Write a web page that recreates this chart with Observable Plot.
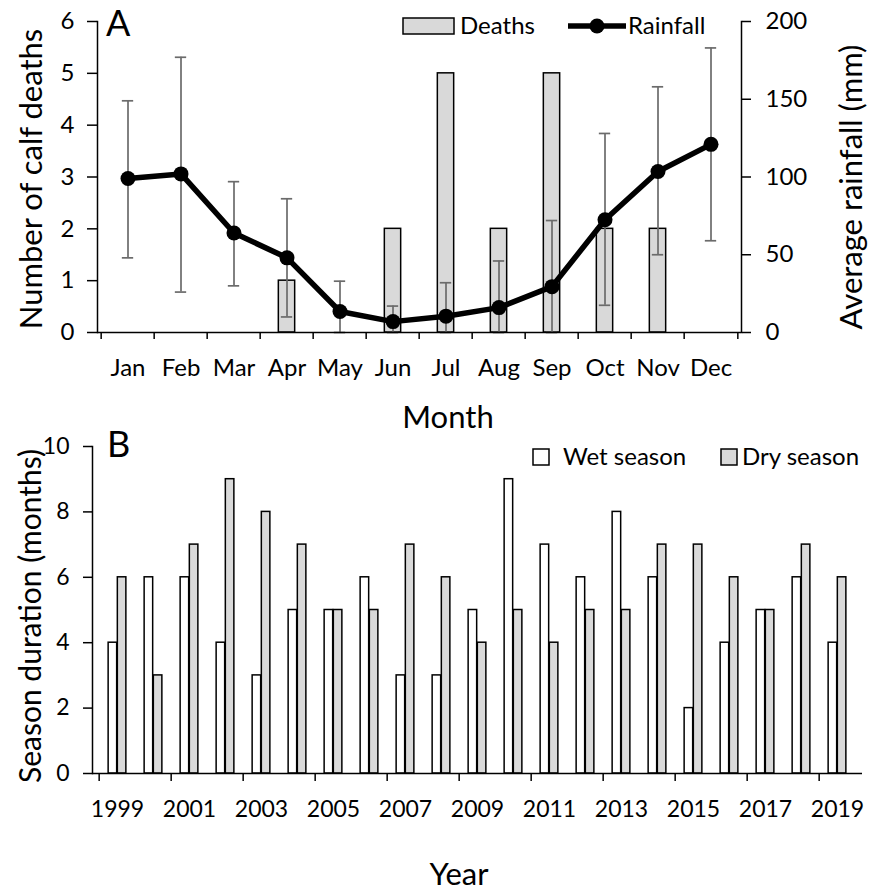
<!DOCTYPE html>
<html><head><meta charset="utf-8">
<script src="https://cdn.jsdelivr.net/npm/d3@7"></script>
<script src="https://cdn.jsdelivr.net/npm/@observablehq/plot@0.6"></script>
<style>
body{margin:0;background:#fff;}
#wrap{position:relative;width:872px;height:896px;overflow:hidden;background:#fff;font-family:Lato,"Open Sans",sans-serif;}
#wrap > svg, #wrap > figure{position:absolute;left:0;margin:0;}
</style></head><body><div id="wrap"></div>
<script>
// ---------- Panel A data ----------
const months = ["Jan","Feb","Mar","Apr","May","Jun","Jul","Aug","Sep","Oct","Nov","Dec"];
const calfDeaths = [0,0,0,1,0,2,5,2,5,2,2,0];
const rainfallMean = [99,102,64,48,13.5,7,10.5,16,29.5,72.5,103.5,121];
const rainfallLow  = [48,26,30,10,0,0,0,0,0,17.5,50,59];
const rainfallHigh = [149,177,97,86,33,17,32,46,72,128,158,183];
const deathTicks = [0,1,2,3,4,5,6];
const rainTicks = [0,50,100,150,200];

// ---------- Panel B data ----------
const years = [1999,2000,2001,2002,2003,2004,2005,2006,2007,2008,2009,2010,2011,2012,2013,2014,2015,2016,2017,2018,2019];
const wetSeason = [4,6,6,4,3,5,5,6,3,3,5,9,7,6,8,6,2,4,5,6,4];
const drySeason = [6,3,7,9,8,7,5,5,7,6,4,5,4,5,5,7,7,6,5,7,6];
const durationTicks = [0,2,4,6,8,10];
const yearLabels = [1999,2001,2003,2005,2007,2009,2011,2013,2015,2017,2019];

const FONT = "Lato, 'Open Sans', sans-serif";
const wrap = document.getElementById("wrap");

// ---------- Panel A ----------
const k = 6 / 200; // rainfall (mm) -> deaths axis units
const deathRows = months.map((m, i) => ({month: m, deaths: calfDeaths[i]}));
const rainRows = months.map((m, i) => ({month: m, rain: rainfallMean[i], lo: rainfallLow[i], hi: rainfallHigh[i]}));
const A_left = 97, A_right = 131, A_w = 872;
const stepA = (A_w - A_left - A_right) / months.length;

const plotA = Plot.plot({
  width: A_w, height: 430,
  marginLeft: A_left, marginRight: A_right, marginTop: 21, marginBottom: 98,
  style: {fontFamily: FONT, background: "none", overflow: "visible", color: "#000"},
  x: {type: "band", domain: months, padding: 0},
  y: {domain: [0, 6]},
  marks: [
    Plot.barY(deathRows.filter(d => d.deaths > 0), {x: "month", y: "deaths", fill: "#d9d9d9", stroke: "#000", strokeWidth: 1.5, insetLeft: (stepA - 17) / 2, insetRight: (stepA - 17) / 2}),
    Plot.ruleX(rainRows, {x: "month", y1: d => d.lo * k, y2: d => d.hi * k, stroke: "#6b6b6b", strokeWidth: 1.7}),
    Plot.tickY(rainRows, {x: "month", y: d => d.lo * k, stroke: "#6b6b6b", strokeWidth: 1.7, insetLeft: (stepA - 12) / 2, insetRight: (stepA - 12) / 2}),
    Plot.tickY(rainRows, {x: "month", y: d => d.hi * k, stroke: "#6b6b6b", strokeWidth: 1.7, insetLeft: (stepA - 12) / 2, insetRight: (stepA - 12) / 2}),
    Plot.line(rainRows, {x: "month", y: d => d.rain * k, stroke: "#000", strokeWidth: 5.5, strokeLinejoin: "round"}),
    Plot.dot(rainRows, {x: "month", y: d => d.rain * k, r: 7.5, fill: "#000", stroke: "none"}),
    Plot.ruleY([0], {stroke: "#000", strokeWidth: 1.5}),
    Plot.frame({anchor: "left", stroke: "#000", strokeWidth: 1.5}),
    Plot.frame({anchor: "right", stroke: "#000", strokeWidth: 1.5}),
    Plot.axisY({ticks: deathTicks, tickFormat: d => String(d), tickSize: 10, tickPadding: 13, fontSize: 24, label: null, strokeWidth: 1.5}),
    Plot.axisY({anchor: "right", ticks: rainTicks.map(v => v * k), tickFormat: d => String(Math.round(d / k)), tickSize: 9, tickPadding: 15, fontSize: 24, label: null, strokeWidth: 1.5}),
    Plot.axisX({tickSize: 0, tickPadding: 26, fontSize: 24, label: null}),
    Plot.axisX({tickSize: 7, text: null, label: null, dx: -stepA / 2, strokeWidth: 1.5}),
    Plot.axisX({ticks: [months[months.length - 1]], tickSize: 7, text: null, label: null, dx: stepA / 2, strokeWidth: 1.5})
  ]
});
plotA.style.top = "0px";
wrap.appendChild(plotA);

// ---------- Panel B ----------
const B_left = 92, B_right = 10, B_w = 872;
const stepB = (B_w - B_left - B_right) / years.length;
const barW = 9.2;
const seasonRows = years.map((y, i) => ({year: y, wet: wetSeason[i], dry: drySeason[i]}));

const plotB = Plot.plot({
  width: B_w, height: 466,
  marginLeft: B_left, marginRight: B_right, marginTop: 16, marginBottom: 123,
  style: {fontFamily: FONT, background: "none", overflow: "visible", color: "#000"},
  x: {type: "band", domain: years, padding: 0},
  y: {domain: [0, 10]},
  marks: [
    Plot.barY(seasonRows, {x: "year", y: "wet", fill: "#fff", stroke: "#000", strokeWidth: 1.5, insetLeft: stepB / 2 - barW, insetRight: stepB / 2}),
    Plot.barY(seasonRows, {x: "year", y: "dry", fill: "#d9d9d9", stroke: "#000", strokeWidth: 1.5, insetLeft: stepB / 2, insetRight: stepB / 2 - barW}),
    Plot.ruleY([0], {stroke: "#000", strokeWidth: 1.5}),
    Plot.frame({anchor: "left", stroke: "#000", strokeWidth: 1.5}),
    Plot.axisY({ticks: durationTicks, tickFormat: d => String(d), tickSize: 9, tickPadding: 14, fontSize: 23, label: null, strokeWidth: 1.5}),
    Plot.axisX({ticks: yearLabels, tickSize: 0, tickPadding: 27, fontSize: 23, label: null, tickFormat: d => String(d)}),
    Plot.axisX({ticks: yearLabels, tickSize: 8, text: null, label: null, dx: -stepB / 2, strokeWidth: 1.5})
  ]
});
plotB.style.top = "430px";
wrap.appendChild(plotB);

// ---------- Titles, panel letters, legends ----------
const ov = d3.select(wrap).append("svg")
  .attr("width", 872).attr("height", 896)
  .style("position", "absolute").style("left", "0px").style("top", "0px")
  .style("font-family", FONT).style("pointer-events", "none");

function txt(s, x, y, size, opts = {}) {
  const t = ov.append("text").attr("x", x).attr("y", y).attr("font-size", size).attr("fill", "#000").text(s);
  if (opts.anchor) t.attr("text-anchor", opts.anchor);
  if (opts.rotate) t.attr("transform", `rotate(-90 ${x} ${y})`);
  return t;
}
txt("A", 106, 36, 36);
txt("B", 107, 457, 36);
txt("Number of calf deaths", 42, 179, 31, {anchor: "middle", rotate: true});
txt("Average rainfall (mm)", 862, 187, 31, {anchor: "middle", rotate: true});
txt("Month", 448, 428, 31, {anchor: "middle"});
txt("Season duration (months)", 41, 616, 30, {anchor: "middle", rotate: true});
txt("Year", 459, 885, 31, {anchor: "middle"});

// legend A
ov.append("rect").attr("x", 403).attr("y", 18).attr("width", 51).attr("height", 16).attr("fill", "#d9d9d9").attr("stroke", "#000").attr("stroke-width", 1.5);
txt("Deaths", 460, 34, 24);
ov.append("line").attr("x1", 568).attr("x2", 626).attr("y1", 26).attr("y2", 26).attr("stroke", "#000").attr("stroke-width", 5.5);
ov.append("circle").attr("cx", 597).attr("cy", 26).attr("r", 7.5).attr("fill", "#000");
txt("Rainfall", 628, 34, 24);

// legend B
ov.append("rect").attr("x", 533).attr("y", 449).attr("width", 16).attr("height", 16).attr("fill", "#fff").attr("stroke", "#000").attr("stroke-width", 1.5);
txt("Wet season", 563, 465, 24);
ov.append("rect").attr("x", 721).attr("y", 449).attr("width", 16).attr("height", 16).attr("fill", "#d9d9d9").attr("stroke", "#000").attr("stroke-width", 1.5);
txt("Dry season", 742, 465, 24);
</script></body></html>
